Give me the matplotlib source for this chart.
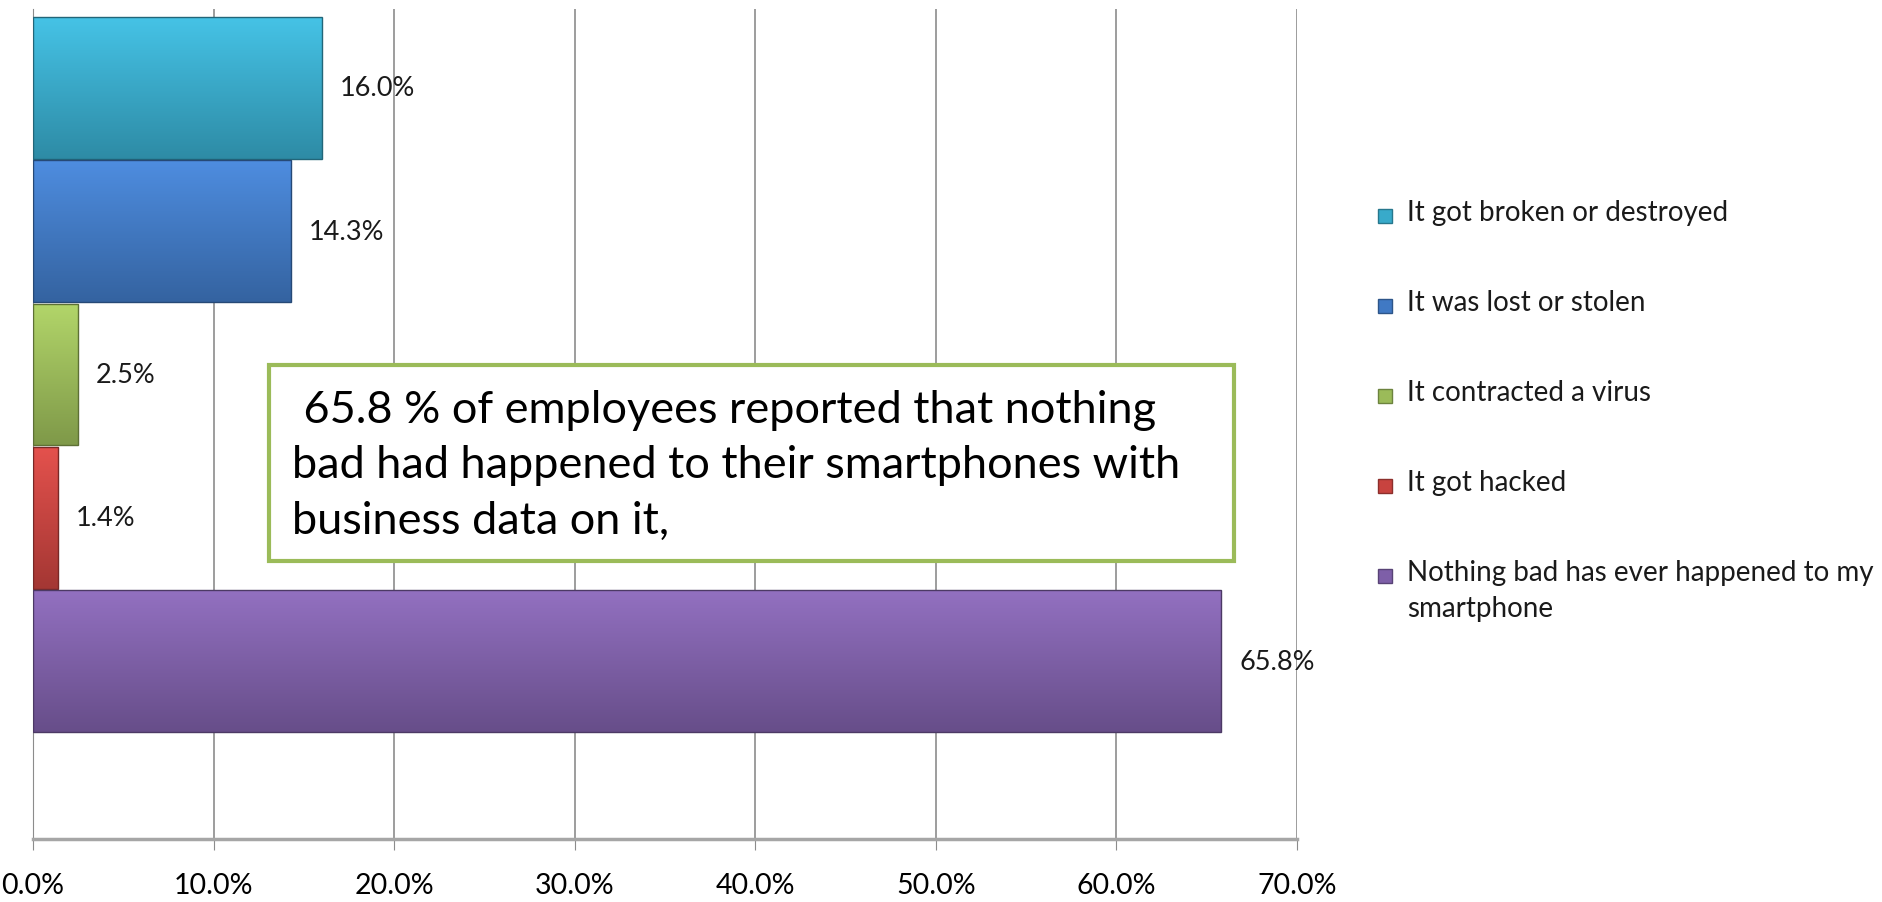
import numpy as np
import matplotlib
matplotlib.use("Agg")
import matplotlib.pyplot as plt
from matplotlib.patches import Rectangle
from matplotlib.colors import to_rgb

categories = [
    "It got broken or destroyed",
    "It was lost or stolen",
    "It contracted a virus",
    "It got hacked",
    "Nothing bad has ever happened to my\nsmartphone",
]
values = [16.0, 14.3, 2.5, 1.4, 65.8]
colors = ["#38AACA", "#4079C4", "#9BBB59", "#C8433F", "#7E5FA8"]
xticks = [0, 10, 20, 30, 40, 50, 60, 70]
note = " 65.8 % of employees reported that nothing\nbad had happened to their smartphones with\nbusiness data on it,"

plt.rcParams["font.family"] = ["Lato", "DejaVu Sans"]

fig = plt.figure(figsize=(18.82, 9.03), dpi=100)
ax = fig.add_axes([0.0175, 0.0698, 0.6717, 0.9192])

ypos = np.arange(len(values))
bars = ax.barh(ypos, values, height=0.99, color=colors, edgecolor="none", zorder=3)

# soft vertical gradient to mimic the office bevel
for bar, c in zip(bars, colors):
    base = np.array(to_rgb(c))
    light = np.clip(base * 1.1 + 0.03, 0, 1)
    dark = base * 0.82
    t = np.linspace(0, 1, 64)[:, None]
    grad = (light * (1 - t) + dark * t).reshape(64, 1, 3)
    x0, y0 = bar.get_x(), bar.get_y()
    w, h = bar.get_width(), bar.get_height()
    im = ax.imshow(grad, extent=(x0, x0 + w, y0 + h, y0), aspect="auto",
                   zorder=3.5, interpolation="bilinear")
    im.set_clip_path(bar)
    ax.add_patch(Rectangle((x0, y0), w, h, fill=False,
                           edgecolor=tuple(base * 0.6), lw=1.0, zorder=4))

for y, v in zip(ypos, values):
    ax.annotate(f"{v:.1f}%", (v, y), xytext=(13, 0), textcoords="offset points",
                va="center", ha="left", fontsize=19.5, color="#1a1a1a", zorder=5)

ax.set_xlim(0, 70)
ax.set_ylim(5.24, -0.55)
ax.set_xticks(xticks)
ax.set_xticklabels([f"{t:.1f}%" for t in xticks], fontsize=20.5)
ax.set_yticks([])
ax.grid(axis="x", color="#8c8c8c", lw=1.2, zorder=0)
ax.tick_params(axis="x", direction="out", length=8, color="#8c8c8c", pad=16)
for s in ["top", "right"]:
    ax.spines[s].set_visible(False)
ax.spines["left"].set_color("#8c8c8c")
ax.spines["bottom"].set_color("#a6a6a6")
ax.spines["bottom"].set_linewidth(2.5)

# legend drawn by hand so the two-line entry keeps its marker on the first line
leg_x, leg_y, leg_step = 1378 / 1882, 1 - 217 / 903, 90 / 903
sq_w, sq_h = 14 / 1882, 14 / 903
for i, (lab, c) in enumerate(zip(categories, colors)):
    yy = leg_y - i * leg_step
    fig.patches.append(Rectangle((leg_x, yy - sq_h / 2), sq_w, sq_h,
                                 transform=fig.transFigure, facecolor=c,
                                 edgecolor=tuple(np.array(to_rgb(c)) * 0.7), lw=1))
    fig.text(leg_x + 29 / 1882, yy + 17 / 903, lab, fontsize=20, va="top",
             ha="left", linespacing=1.5, color="#1a1a1a")

# annotation box
fig.patches.append(Rectangle((269 / 1882, 1 - 562 / 903), (1234 - 269) / 1882,
                             (562 - 366) / 903, transform=fig.transFigure,
                             facecolor="white", edgecolor="#9BBB59", lw=3, zorder=10))
fig.text(292 / 1882, 1 - 466 / 903, note, fontsize=32.5, va="center", ha="left",
         linespacing=1.45, color="black", zorder=11)

fig.savefig("out.png", dpi=100)
